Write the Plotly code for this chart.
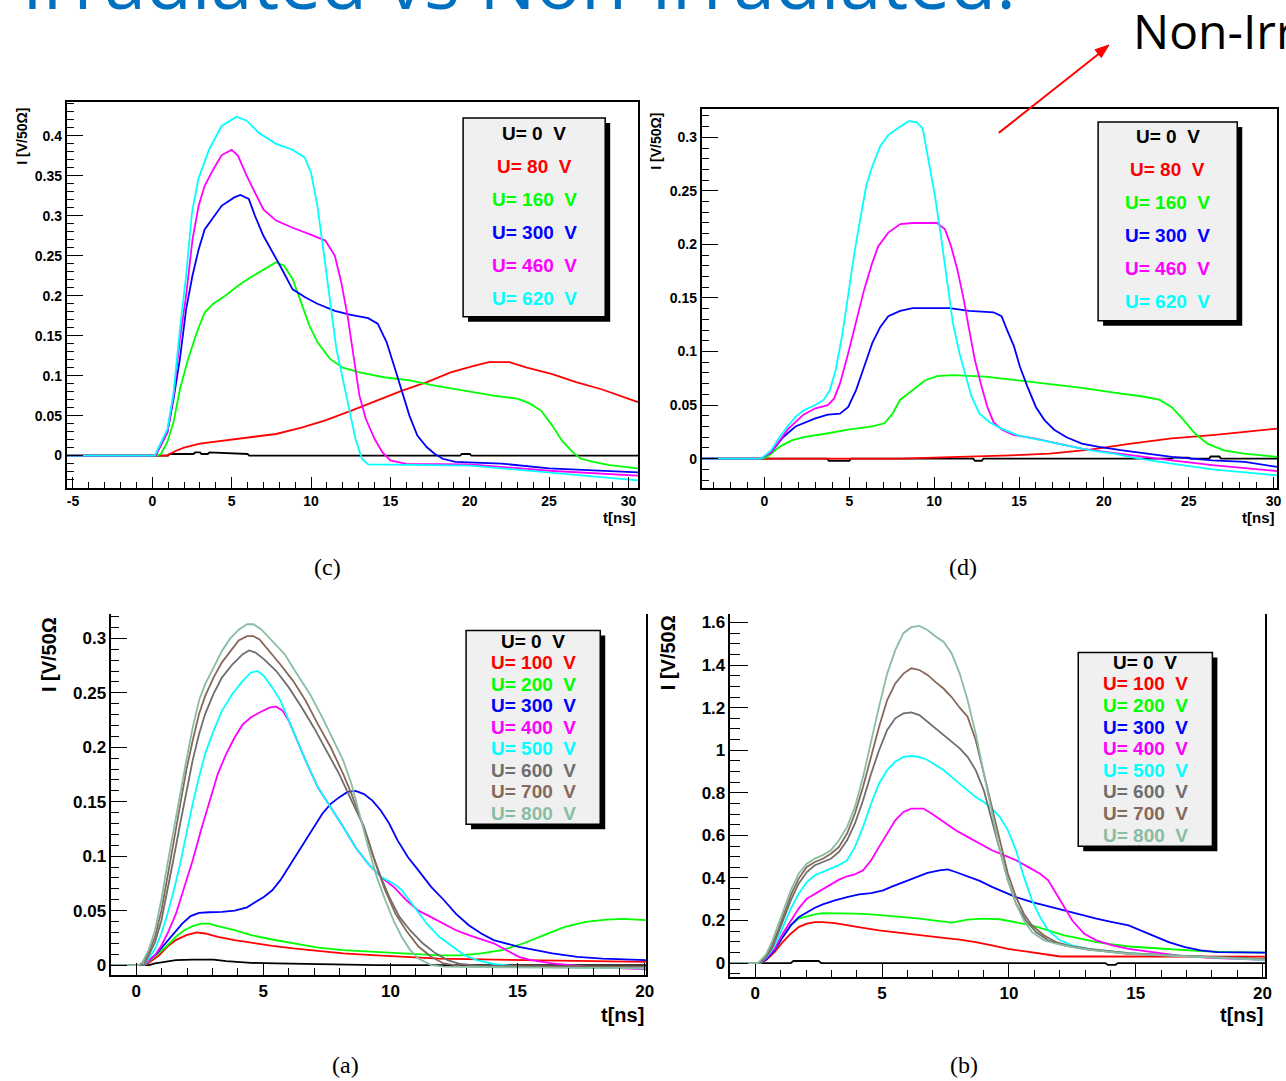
import plotly.graph_objects as go

# ---------------- data: panel (c), irradiated ----------------
C_VOLTS = [0, 80, 160, 300, 460, 620]

C_T_0 = [-5.4, 1.0, 1.1, 2.6, 2.7, 3.0, 3.1, 3.5, 3.6, 6.0, 6.1, 19.4, 19.5, 20.0, 20.1, 30.6]
C_V_0 = [0, 0, 0.002, 0.002, 0.004, 0.004, 0.002, 0.002, 0.004, 0.002, 0.0, 0.0, 0.002, 0.002, 0.0, 0.0]

C_T_80 = [-5.4, 0.9, 1.5, 2.0, 3.0, 4.6, 6.2, 7.8, 9.4, 10.9, 12.5, 14.1, 15.7, 17.3, 18.8,
          20.2, 21.2, 22.5, 23.6, 25.2, 26.7, 28.3, 30.6]
C_V_80 = [0, 0, 0.006, 0.010, 0.015, 0.019, 0.023, 0.027, 0.035, 0.044, 0.056, 0.069, 0.081,
          0.092, 0.104, 0.112, 0.117, 0.117, 0.110, 0.102, 0.092, 0.083, 0.067]

C_T_160 = [-5.4, 0.3, 0.55, 0.95, 1.34, 1.74, 2.26, 2.8, 3.3, 3.84, 4.6, 5.4, 6.2, 7.0, 7.8,
           8.3, 8.84, 9.37, 9.9, 10.4, 11.2, 12.0, 13.05, 14.6, 16.2, 17.8, 19.9, 21.5, 23.05,
           23.8, 24.5, 25.2, 25.8, 26.5, 27.0, 27.8, 28.8, 30.6]
C_V_160 = [0, 0, 0.002, 0.017, 0.042, 0.083, 0.121, 0.154, 0.179, 0.19, 0.2, 0.2125, 0.223,
           0.233, 0.242, 0.2375, 0.221, 0.192, 0.1625, 0.142, 0.121, 0.11, 0.104, 0.098, 0.094,
           0.0875, 0.08, 0.075, 0.071, 0.065, 0.056, 0.0375, 0.019, 0.004, -0.004, -0.008,
           -0.012, -0.016]

C_T_300 = [-5.4, 0.2, 0.95, 1.34, 1.74, 2.13, 2.53, 2.92, 3.3, 3.84, 4.37, 5.16, 5.55, 6.08,
           6.47, 7.0, 7.5, 8.05, 8.84, 9.63, 10.4, 11.5, 12.5, 13.6, 14.2, 14.76, 15.3, 15.7,
           16.2, 16.7, 17.3, 17.8, 18.3, 19.1, 22.0, 25.0, 30.6]
C_V_300 = [0, 0, 0.029, 0.071, 0.121, 0.183, 0.225, 0.258, 0.283, 0.298, 0.3125, 0.323, 0.326,
           0.321, 0.300, 0.275, 0.258, 0.2375, 0.208, 0.198, 0.19, 0.181, 0.176, 0.172, 0.165,
           0.142, 0.108, 0.083, 0.05, 0.025, 0.0104, 0.002, -0.004, -0.008, -0.010, -0.016,
           -0.021]

C_T_460 = [-5.4, 0.2, 0.95, 1.34, 1.74, 2.13, 2.53, 2.92, 3.3, 3.84, 4.37, 5.0, 5.4, 5.95,
           6.47, 7.0, 7.8, 8.84, 9.9, 10.9, 11.5, 11.9, 12.3, 12.7, 13.05, 13.45, 14.0, 14.5,
           15.0, 16.0, 20.0, 25.0, 30.6]
C_V_460 = [0, 0, 0.029, 0.075, 0.146, 0.2, 0.27, 0.3125, 0.3375, 0.358, 0.376, 0.3825, 0.375,
           0.35, 0.329, 0.308, 0.294, 0.285, 0.277, 0.269, 0.25, 0.217, 0.175, 0.121, 0.075,
           0.046, 0.021, 0.004, -0.006, -0.0104, -0.011, -0.019, -0.025]

C_T_620 = [-5.4, 0.15, 0.95, 1.34, 1.74, 2.13, 2.5, 2.9, 3.58, 4.37, 5.3, 5.95, 6.7, 7.8, 8.8,
           9.6, 10.0, 10.4, 10.8, 11.2, 11.6, 12.0, 12.4, 12.8, 13.2, 13.6, 20.0, 25.0, 30.6]
C_V_620 = [0, 0, 0.033, 0.079, 0.158, 0.225, 0.304, 0.346, 0.383, 0.4125, 0.424, 0.419, 0.404,
           0.39, 0.383, 0.373, 0.354, 0.3125, 0.254, 0.19, 0.133, 0.096, 0.058, 0.021, -0.004,
           -0.011, -0.0125, -0.021, -0.031]

# ---------------- data: panel (d), non-irradiated ----------------
D_VOLTS = [0, 80, 160, 300, 460, 620]

D_T_0 = [-3.7, 3.7, 3.8, 5.0, 5.1, 12.3, 12.4, 12.8, 12.9, 24.0, 24.1, 25.0, 25.1, 26.2, 26.3,
         26.8, 26.9, 30.2]
D_V_0 = [0, 0, -0.002, -0.002, 0, 0, -0.002, -0.002, 0, 0, 0.001, 0.001, 0, 0, 0.002, 0.002,
         0, 0]

D_T_80 = [-3.7, 8.0, 10.0, 12.07, 14.5, 16.8, 19.2, 21.6, 24.0, 26.4, 30.2]
D_V_80 = [0, 0, 0.001, 0.0016, 0.003, 0.0047, 0.0084, 0.014, 0.019, 0.022, 0.028]

D_T_160 = [-3.7, -0.1, 0.17, 0.88, 1.6, 2.3, 3.5, 4.93, 6.36, 7.07, 7.55, 8.0, 8.74, 9.45,
           10.17, 11.1, 13.0, 14.9, 16.8, 18.7, 20.6, 22.3, 23.26, 24.0, 24.7, 25.4, 26.1,
           27.07, 28.26, 30.2]
D_V_160 = [0, 0, 0.0016, 0.011, 0.017, 0.020, 0.023, 0.027, 0.030, 0.033, 0.042, 0.055, 0.064,
           0.073, 0.077, 0.078, 0.0766, 0.073, 0.069, 0.066, 0.0616, 0.058, 0.055, 0.048, 0.036,
           0.023, 0.014, 0.0078, 0.0047, 0.0016]

D_T_300 = [-3.7, -0.2, 0.4, 1.1, 1.83, 2.3, 3.0, 3.74, 4.45, 4.93, 5.4, 5.88, 6.36, 6.83, 7.3,
           8.0, 8.74, 10.9, 12.07, 13.5, 13.97, 14.3, 14.7, 15.05, 15.5, 16.0, 16.5, 17.07,
           17.8, 18.7, 19.7, 21.1, 22.5, 24.0, 26.4, 28.3, 30.2]
D_V_300 = [0, 0, 0.006, 0.020, 0.030, 0.033, 0.0375, 0.041, 0.042, 0.048, 0.064, 0.086, 0.108,
           0.123, 0.133, 0.138, 0.1406, 0.1406, 0.138, 0.1366, 0.133, 0.120, 0.105, 0.086,
           0.067, 0.048, 0.036, 0.027, 0.020, 0.014, 0.011, 0.0078, 0.0047, 0.0016, -0.0016,
           -0.003, -0.0078]

D_T_460 = [-3.7, -0.2, 0.4, 0.88, 1.36, 1.83, 2.3, 3.0, 3.74, 4.1, 4.45, 4.93, 5.4, 5.88, 6.36,
           6.7, 7.3, 8.0, 8.74, 10.17, 10.64, 11.0, 11.36, 11.7, 12.07, 12.4, 12.8, 13.14, 13.5,
           14.0, 14.7, 15.9, 17.3, 18.7, 20.2, 21.6, 24.0, 26.4, 30.2]
D_V_460 = [0, 0, 0.006, 0.017, 0.027, 0.034, 0.041, 0.047, 0.050, 0.056, 0.070, 0.098, 0.127,
           0.158, 0.183, 0.198, 0.211, 0.219, 0.220, 0.220, 0.214, 0.198, 0.177, 0.152, 0.120,
           0.092, 0.067, 0.048, 0.034, 0.027, 0.022, 0.019, 0.014, 0.0094, 0.006, 0.003,
           -0.0016, -0.006, -0.0116]

D_T_620 = [-3.7, -0.2, 0.4, 0.88, 1.36, 1.83, 2.3, 3.0, 3.5, 3.86, 4.2, 4.57, 4.93, 5.3, 5.64,
           6.0, 6.36, 6.83, 7.3, 7.9, 8.5, 8.98, 9.33, 9.7, 10.05, 10.4, 10.76, 11.1, 11.5,
           11.83, 12.2, 12.67, 13.26, 13.97, 14.9, 16.36, 17.8, 19.2, 20.6, 22.07, 24.0, 26.4,
           30.2]
D_V_620 = [0, 0, 0.0078, 0.020, 0.030, 0.039, 0.045, 0.050, 0.055, 0.064, 0.083, 0.114, 0.152,
           0.192, 0.223, 0.255, 0.273, 0.292, 0.302, 0.309, 0.315, 0.314, 0.308, 0.277, 0.245,
           0.208, 0.167, 0.127, 0.098, 0.080, 0.058, 0.042, 0.034, 0.028, 0.022, 0.017, 0.0125,
           0.0078, 0.0047, 0.0, -0.0047, -0.010, -0.0156]

# ---------------- data: panel (a) ----------------
A_VOLTS = [0, 100, 200, 300, 400, 500, 600, 700, 800]

A_T_0 = [-1, 0.5, 0.74, 1.23, 1.56, 2.22, 3.04, 3.54, 4.52, 5.51, 7.15, 9.46, 20.05]
A_V_0 = [0, 0, 0.0015, 0.003, 0.0046, 0.005, 0.005, 0.0037, 0.002, 0.0015, 0.0006, 0, 0]

A_T_100 = [-1, 0.3, 0.49, 0.9, 1.23, 1.56, 1.97, 2.38, 2.71, 3.21, 3.87, 4.52, 5.35, 6.17,
           7.15, 8.14, 9.46, 10.77, 11.92, 13.57, 16.04, 17.68, 20.05]
A_V_100 = [0, 0, 0.002, 0.009, 0.017, 0.0229, 0.0275, 0.030, 0.029, 0.026, 0.0229, 0.0205,
           0.0177, 0.0153, 0.0131, 0.0107, 0.0089, 0.007, 0.006, 0.0052, 0.0046, 0.004, 0.003]

A_T_200 = [-1, 0.3, 0.49, 0.9, 1.23, 1.56, 1.89, 2.22, 2.55, 2.88, 3.21, 3.87, 4.52, 5.35,
           6.17, 7.15, 8.14, 9.46, 10.77, 11.92, 12.75, 13.57, 14.39, 15.21, 16.04, 16.86,
           17.68, 18.5, 19.16, 20.05]
A_V_200 = [0, 0, 0.003, 0.011, 0.018, 0.026, 0.032, 0.0357, 0.038, 0.038, 0.0357, 0.032,
           0.0275, 0.0235, 0.0198, 0.016, 0.0137, 0.0122, 0.0107, 0.009, 0.009, 0.0107, 0.0137,
           0.0198, 0.0275, 0.035, 0.0397, 0.0418, 0.0424, 0.0412]

A_T_300 = [-1, 0.3, 0.49, 0.82, 1.15, 1.48, 1.81, 2.14, 2.47, 2.88, 3.37, 3.87, 4.36, 4.69,
           5.02, 5.35, 5.67, 6.0, 6.33, 6.66, 6.99, 7.32, 7.65, 7.98, 8.31, 8.63, 8.96, 9.29,
           9.62, 9.95, 10.28, 10.69, 11.1, 11.6, 12.09, 12.58, 13.08, 13.57, 14.06, 14.56,
           15.05, 15.71, 16.37, 17.35, 18.34, 20.05]
A_V_300 = [0, 0, 0.004, 0.011, 0.020, 0.029, 0.038, 0.045, 0.048, 0.0485, 0.0489, 0.050,
           0.053, 0.058, 0.0626, 0.0687, 0.078, 0.090, 0.102, 0.1145, 0.127, 0.139, 0.148,
           0.154, 0.159, 0.160, 0.157, 0.151, 0.142, 0.130, 0.1145, 0.099, 0.087, 0.0718,
           0.060, 0.047, 0.0366, 0.029, 0.0229, 0.0198, 0.0168, 0.0137, 0.0107, 0.0076, 0.006,
           0.0046]

A_T_400 = [-1, 0.3, 0.49, 0.74, 0.99, 1.23, 1.56, 1.89, 2.22, 2.55, 2.88, 3.21, 3.54, 3.87,
           4.19, 4.52, 4.85, 5.26, 5.51, 5.76, 6.0, 6.33, 6.66, 7.15, 7.65, 8.14, 8.63, 9.13,
           9.62, 10.12, 10.61, 11.1, 11.6, 12.09, 12.58, 13.08, 13.57, 14.06, 14.56, 15.05,
           15.54, 16.37, 17.68, 20.05]
A_V_400 = [0, 0, 0.004, 0.009, 0.018, 0.029, 0.047, 0.072, 0.096, 0.124, 0.151, 0.1756, 0.194,
           0.209, 0.221, 0.2275, 0.232, 0.2366, 0.2373, 0.2336, 0.2244, 0.206, 0.188, 0.163,
           0.145, 0.127, 0.108, 0.093, 0.081, 0.072, 0.060, 0.050, 0.044, 0.038, 0.032, 0.0275,
           0.024, 0.020, 0.0137, 0.0076, 0.0046, 0.0015, -0.0015, -0.004]

A_T_500 = [-1, 0.3, 0.49, 0.74, 0.99, 1.23, 1.48, 1.73, 1.97, 2.22, 2.47, 2.71, 3.04, 3.37,
           3.78, 4.19, 4.52, 4.77, 5.02, 5.35, 5.67, 6.0, 6.33, 6.66, 7.15, 7.65, 8.14, 8.63,
           9.13, 9.62, 10.12, 10.44, 10.94, 11.43, 11.92, 12.42, 12.91, 13.4, 14.06, 15.05,
           20.05]
A_V_500 = [0, 0, 0.006, 0.015, 0.029, 0.047, 0.0687, 0.093, 0.120, 0.148, 0.1725, 0.194,
           0.215, 0.2335, 0.249, 0.261, 0.2687, 0.270, 0.2656, 0.255, 0.243, 0.2244, 0.206,
           0.188, 0.163, 0.145, 0.127, 0.108, 0.093, 0.081, 0.075, 0.069, 0.053, 0.038, 0.026,
           0.017, 0.009, 0.0046, 0.001, -0.0015, -0.003]

A_T_600 = [-1, 0.3, 0.49, 0.74, 0.99, 1.23, 1.48, 1.73, 1.97, 2.22, 2.47, 2.71, 3.04, 3.37,
           3.78, 4.19, 4.44, 4.69, 5.02, 5.51, 6.0, 6.5, 6.99, 7.48, 7.98, 8.47, 8.96, 9.29,
           9.62, 9.95, 10.36, 10.77, 11.27, 11.76, 12.25, 12.75, 13.57, 20.05]
A_V_600 = [0, 0, 0.009, 0.021, 0.041, 0.0687, 0.099, 0.130, 0.160, 0.188, 0.212, 0.2305,
           0.249, 0.264, 0.276, 0.2855, 0.289, 0.287, 0.281, 0.270, 0.255, 0.237, 0.218, 0.197,
           0.1756, 0.151, 0.127, 0.102, 0.081, 0.0626, 0.044, 0.032, 0.020, 0.011, 0.0046,
           0.001, -0.001, -0.0015]

A_T_700 = [-1, 0.1, 0.25, 0.49, 0.74, 0.99, 1.23, 1.48, 1.73, 1.97, 2.22, 2.47, 2.71, 3.04,
           3.37, 3.70, 4.03, 4.36, 4.61, 4.85, 5.18, 5.67, 6.17, 6.66, 7.15, 7.65, 8.14, 8.47,
           8.8, 9.13, 9.46, 9.79, 10.2, 10.61, 11.1, 11.6, 12.09, 12.75, 20.05]
A_V_700 = [0, 0, 0.002, 0.011, 0.026, 0.050, 0.081, 0.1145, 0.148, 0.179, 0.206, 0.2305,
           0.247, 0.264, 0.278, 0.2885, 0.298, 0.302, 0.302, 0.299, 0.290, 0.276, 0.261, 0.243,
           0.221, 0.200, 0.1756, 0.157, 0.136, 0.1145, 0.090, 0.0687, 0.047, 0.032, 0.017,
           0.0076, 0.0015, -0.001, -0.0015]

A_T_800 = [-1, 0.1, 0.25, 0.49, 0.74, 0.99, 1.23, 1.48, 1.73, 1.97, 2.22, 2.47, 2.71, 3.04,
           3.37, 3.70, 4.03, 4.36, 4.61, 4.93, 5.35, 5.84, 6.33, 6.83, 7.32, 7.81, 8.14, 8.47,
           8.8, 9.13, 9.46, 9.79, 10.12, 10.44, 10.77, 11.1, 11.6, 12.09, 14.39, 20.05]
A_V_800 = [0, 0, 0.003, 0.014, 0.032, 0.060, 0.093, 0.127, 0.157, 0.188, 0.218, 0.243, 0.258,
           0.273, 0.2885, 0.300, 0.308, 0.313, 0.313, 0.308, 0.298, 0.2855, 0.267, 0.249,
           0.2275, 0.203, 0.188, 0.166, 0.136, 0.108, 0.081, 0.060, 0.041, 0.026, 0.014, 0.006,
           0.0, -0.0015, -0.002, -0.003]

# ---------------- data: panel (b) ----------------
B_VOLTS = [0, 100, 200, 300, 400, 500, 600, 700, 800]

B_T_0 = [-1, 1.4, 1.5, 2.5, 2.6, 13.8, 13.9, 14.2, 14.3, 20.1]
B_V_0 = [0, 0, 0.01, 0.01, 0, 0, -0.008, -0.008, 0, 0]

B_T_100 = [-1, 0.2, 0.44, 0.76, 1.08, 1.40, 1.71, 2.03, 2.35, 2.66, 3.14, 3.62, 4.25, 4.88,
           5.52, 6.15, 6.79, 7.42, 8.06, 8.69, 9.33, 9.96, 10.59, 11.23, 12.02, 13.13, 16.0,
           20.1]
B_V_100 = [0, 0, 0.016, 0.052, 0.099, 0.138, 0.169, 0.185, 0.193, 0.193, 0.188, 0.177, 0.166,
           0.154, 0.146, 0.138, 0.130, 0.119, 0.110, 0.099, 0.083, 0.067, 0.056, 0.044, 0.031,
           0.031, 0.031, 0.030]

B_T_200 = [-1, 0.2, 0.44, 0.76, 1.08, 1.40, 1.71, 2.03, 2.35, 2.66, 3.30, 3.93, 4.57, 5.20,
           5.84, 6.47, 7.11, 7.74, 8.37, 9.01, 9.64, 10.28, 10.91, 11.55, 12.18, 12.82, 13.45,
           14.08, 14.72, 15.67, 16.62, 17.57, 18.68, 20.1]
B_V_200 = [0, 0, 0.020, 0.060, 0.122, 0.177, 0.209, 0.220, 0.229, 0.235, 0.235, 0.232, 0.229,
           0.224, 0.216, 0.209, 0.198, 0.190, 0.204, 0.209, 0.206, 0.193, 0.177, 0.154, 0.130,
           0.1145, 0.099, 0.088, 0.078, 0.071, 0.063, 0.056, 0.052, 0.049]

B_T_300 = [-1, 0.2, 0.44, 0.76, 1.08, 1.40, 1.71, 2.03, 2.35, 2.66, 3.14, 3.62, 4.09, 4.57,
           5.04, 5.36, 5.84, 6.31, 6.79, 7.26, 7.58, 7.90, 8.37, 8.85, 9.33, 9.80, 10.28, 10.91,
           11.55, 12.18, 12.82, 13.45, 14.08, 14.72, 15.19, 15.67, 16.30, 16.94, 17.57, 18.21,
           20.1]
B_V_300 = [0, 0, 0.018, 0.060, 0.122, 0.177, 0.216, 0.240, 0.260, 0.276, 0.295, 0.310, 0.323,
           0.329, 0.342, 0.358, 0.381, 0.400, 0.424, 0.436, 0.440, 0.428, 0.408, 0.386, 0.358,
           0.334, 0.310, 0.287, 0.267, 0.248, 0.229, 0.209, 0.193, 0.177, 0.154, 0.130, 0.099,
           0.075, 0.060, 0.052, 0.049]

B_T_400 = [-1, 0.2, 0.44, 0.76, 1.08, 1.40, 1.71, 2.03, 2.35, 2.66, 2.98, 3.30, 3.62, 3.93,
           4.25, 4.57, 4.88, 5.20, 5.52, 5.84, 6.15, 6.63, 6.95, 7.42, 7.90, 8.37, 8.85, 9.33,
           9.80, 10.28, 10.75, 11.23, 11.55, 11.86, 12.18, 12.50, 12.97, 13.45, 14.08, 14.72,
           15.67, 16.62, 17.89, 20.1]
B_V_400 = [0, 0, 0.025, 0.067, 0.138, 0.200, 0.256, 0.303, 0.326, 0.350, 0.373, 0.392, 0.408,
           0.417, 0.436, 0.483, 0.546, 0.609, 0.671, 0.710, 0.726, 0.726, 0.703, 0.664, 0.624,
           0.593, 0.562, 0.530, 0.507, 0.483, 0.452, 0.420, 0.389, 0.326, 0.264, 0.200, 0.138,
           0.107, 0.083, 0.067, 0.052, 0.036, 0.025, 0.0157]

B_T_500 = [-1, 0.2, 0.44, 0.68, 0.92, 1.16, 1.40, 1.71, 2.03, 2.35, 2.66, 2.98, 3.30, 3.62,
           3.93, 4.25, 4.57, 4.88, 5.20, 5.52, 5.84, 6.15, 6.47, 6.79, 7.11, 7.42, 7.74, 8.06,
           8.37, 8.69, 9.01, 9.33, 9.64, 9.96, 10.28, 10.59, 10.91, 11.23, 11.55, 12.02, 12.50,
           13.13, 14.72, 16.30, 20.1]
B_V_500 = [0, 0, 0.028, 0.067, 0.122, 0.185, 0.256, 0.326, 0.381, 0.413, 0.428, 0.444, 0.460,
           0.483, 0.546, 0.640, 0.750, 0.844, 0.907, 0.946, 0.969, 0.973, 0.969, 0.954, 0.930,
           0.907, 0.875, 0.844, 0.8125, 0.780, 0.757, 0.726, 0.687, 0.624, 0.530, 0.405, 0.295,
           0.216, 0.154, 0.107, 0.083, 0.067, 0.047, 0.036, 0.0157]

B_T_600 = [-1, 0.2, 0.44, 0.68, 0.92, 1.16, 1.40, 1.71, 2.03, 2.35, 2.66, 2.98, 3.30, 3.62,
           3.93, 4.25, 4.57, 4.88, 5.20, 5.52, 5.84, 6.15, 6.47, 6.79, 7.11, 7.42, 7.74, 8.06,
           8.37, 8.69, 9.01, 9.33, 9.64, 9.96, 10.28, 10.67, 11.07, 11.55, 12.18, 13.13, 14.72,
           20.1]
B_V_600 = [0, 0, 0.031, 0.075, 0.146, 0.216, 0.295, 0.373, 0.428, 0.460, 0.475, 0.490, 0.522,
           0.577, 0.656, 0.765, 0.891, 1.000, 1.095, 1.150, 1.173, 1.178, 1.165, 1.134, 1.103,
           1.070, 1.040, 1.009, 0.969, 0.907, 0.812, 0.671, 0.530, 0.389, 0.279, 0.200, 0.146,
           0.107, 0.083, 0.063, 0.044, 0.019]

B_T_700 = [-1, 0.1, 0.21, 0.44, 0.68, 0.92, 1.16, 1.40, 1.71, 2.03, 2.35, 2.66, 2.98, 3.30,
           3.62, 3.93, 4.25, 4.57, 4.88, 5.20, 5.52, 5.84, 6.15, 6.47, 6.79, 7.11, 7.42, 7.74,
           8.06, 8.37, 8.69, 9.01, 9.33, 9.64, 9.96, 10.28, 10.59, 10.91, 11.39, 11.86, 12.50,
           13.13, 14.72, 16.30, 20.1]
B_V_700 = [0, 0, 0.009, 0.036, 0.091, 0.160, 0.240, 0.318, 0.397, 0.452, 0.475, 0.490, 0.514,
           0.546, 0.609, 0.703, 0.828, 0.969, 1.110, 1.236, 1.314, 1.360, 1.385, 1.377, 1.354,
           1.320, 1.290, 1.250, 1.200, 1.158, 1.048, 0.891, 0.734, 0.577, 0.420, 0.310, 0.232,
           0.177, 0.130, 0.099, 0.078, 0.067, 0.047, 0.036, 0.020]

B_T_800 = [-1, 0.1, 0.21, 0.44, 0.68, 0.92, 1.16, 1.40, 1.71, 2.03, 2.35, 2.66, 2.98, 3.30,
           3.62, 3.93, 4.25, 4.57, 4.88, 5.20, 5.52, 5.84, 6.15, 6.47, 6.79, 7.11, 7.42, 7.74,
           8.06, 8.37, 8.69, 9.01, 9.33, 9.64, 9.96, 10.28, 10.59, 10.91, 11.39, 11.86, 12.50,
           13.13, 14.72, 16.30, 17.89, 20.1]
B_V_800 = [0, 0, 0.0125, 0.044, 0.107, 0.185, 0.264, 0.342, 0.420, 0.467, 0.491, 0.507, 0.530,
           0.577, 0.640, 0.734, 0.875, 1.048, 1.205, 1.360, 1.470, 1.550, 1.578, 1.584, 1.565,
           1.534, 1.510, 1.456, 1.360, 1.236, 1.079, 0.891, 0.703, 0.530, 0.389, 0.279, 0.200,
           0.146, 0.107, 0.091, 0.075, 0.063, 0.044, 0.036, 0.025, 0.0157]

C_X_TICKS = [-5, 0, 5, 10, 15, 20, 25, 30]

# ROOT palette used for the voltage series
COL6 = ["#000000", "#ff0000", "#00ff00", "#0000ff", "#ff00ff", "#00ffff"]
COL9 = COL6 + ["#6e6e6e", "#86695a", "#88bda3"]

W, H = 1286, 1081


def fx(px):
    return px / W


def fy(py):
    return 1 - py / H


fig = go.Figure()

FONT = "Liberation Sans"


def add_panel(idx, xpx, ypx, xr, yr, xd, xm, yd, ym, tsize, xlen, ylen, top_line,
              xticks=None):
    sfx = "" if idx == 1 else str(idx)
    xa = dict(domain=[fx(xpx[0]), fx(xpx[1])], range=xr, anchor="y" + sfx,
              showgrid=False, zeroline=False, showline=True, linecolor="black",
              linewidth=1.5, mirror=top_line, ticks="inside", ticklen=xlen[0],
              tickwidth=1.3, tickcolor="black",
              tickfont=dict(family=FONT, size=tsize, color="black", weight="bold"),
              minor=dict(ticks="inside", ticklen=xlen[1], dtick=xm, tick0=0,
                         tickcolor="black", tickwidth=1.3, showgrid=False))
    if xticks is not None:
        xa.update(tickmode="array", tickvals=xticks, ticktext=[str(v) for v in xticks])
    else:
        xa.update(tickmode="linear", tick0=0, dtick=xd)
    ya = dict(domain=[fy(ypx[1]), fy(ypx[0])], range=yr, anchor="x" + sfx,
              showgrid=False, zeroline=False, showline=True, linecolor="black",
              linewidth=1.5, mirror=True, ticks="inside", ticklen=ylen[0],
              tickwidth=1.3, tickcolor="black", tickmode="linear", tick0=0, dtick=yd,
              tickfont=dict(family=FONT, size=tsize, color="black", weight="bold"),
              minor=dict(ticks="inside", ticklen=ylen[1], dtick=ym, tick0=0,
                         tickcolor="black", tickwidth=1.3, showgrid=False))
    fig.update_layout(**{"xaxis" + sfx: xa, "yaxis" + sfx: ya})
    return "x" + sfx, "y" + sfx


def add_curves(axes, ts, vs, colors):
    for t, v, c in zip(ts, vs, colors):
        fig.add_trace(go.Scatter(x=t, y=v, mode="lines", xaxis=axes[0], yaxis=axes[1],
                                 line=dict(color=c, width=1.8), showlegend=False,
                                 hoverinfo="skip"))


def add_legend_box(box, volts, colors, y0, dy, size):
    x0, y_top, x1, y_bot = box
    fig.add_shape(type="rect", xref="paper", yref="paper",
                  x0=fx(x0 + 5), x1=fx(x1 + 5), y0=fy(y_bot + 5), y1=fy(y_top + 5),
                  fillcolor="black", line=dict(width=0))
    fig.add_shape(type="rect", xref="paper", yref="paper",
                  x0=fx(x0), x1=fx(x1), y0=fy(y_bot), y1=fy(y_top),
                  fillcolor="#f0f0f0", line=dict(color="black", width=1.5))
    cx = (x0 + x1) / 2
    for i, (u, c) in enumerate(zip(volts, colors)):
        fig.add_annotation(text=f"U= {u}\u00a0\u00a0V", x=fx(cx), y=fy(y0 + i * dy),
                           xref="paper", yref="paper", showarrow=False,
                           xanchor="center", yanchor="middle",
                           font=dict(family=FONT, size=size, color=c, weight="bold"))


def text(s, x, y, size, color="black", family=FONT, weight="bold", angle=0,
         xanchor="center", yanchor="middle"):
    fig.add_annotation(text=s, x=fx(x), y=fy(y), xref="paper", yref="paper",
                       showarrow=False, textangle=angle, xanchor=xanchor,
                       yanchor=yanchor,
                       font=dict(family=family, size=size, color=color, weight=weight))


# panel (c)
ax_c = add_panel(1, (67, 642), (101, 487), [-5.4, 30.6], [-0.04, 0.4425], 5, 1, 0.05, 0.01,
                 14, (11, 6), (17, 8), True, xticks=C_X_TICKS)
add_curves(ax_c, [C_T_0, C_T_80, C_T_160, C_T_300, C_T_460, C_T_620],
           [C_V_0, C_V_80, C_V_160, C_V_300, C_V_460, C_V_620], COL6)
add_legend_box((466, 117, 609, 316), C_VOLTS, COL6, 133, 33, 19)
text("I [V/50\u03a9]", 22, 135, 14, angle=-90)
text("t[ns]", 642, 517, 15, xanchor="right")
text("(c)", 330, 567, 24, family="Liberation Serif", weight="normal")

# panel (d)
ax_d = add_panel(2, (706, 1285), (108, 487), [-3.7, 30.2], [-0.027, 0.3265], 5, 1, 0.05,
                 0.01, 14, (11, 6), (17, 8), True)
add_curves(ax_d, [D_T_0, D_T_80, D_T_160, D_T_300, D_T_460, D_T_620],
           [D_V_0, D_V_80, D_V_160, D_V_300, D_V_460, D_V_620], COL6)
add_legend_box((1105, 121, 1245, 320), D_VOLTS, COL6, 136, 33, 19)
text("I [V/50\u03a9]", 660, 140, 14, angle=-90)
text("t[ns]", 1285, 517, 15, xanchor="right")
text("(d)", 969, 567, 24, family="Liberation Serif", weight="normal")

# panel (a)
ax_a = add_panel(3, (112, 650), (614, 975), [-0.98, 20.05], [-0.0092, 0.322], 5, 1, 0.05,
                 0.01, 17, (12, 7), (16, 8), False)
add_curves(ax_a, [A_T_0, A_T_100, A_T_200, A_T_300, A_T_400, A_T_500, A_T_600, A_T_700,
                  A_T_800],
           [A_V_0, A_V_100, A_V_200, A_V_300, A_V_400, A_V_500, A_V_600, A_V_700, A_V_800],
           COL9)
add_legend_box((469, 630, 604, 824), A_VOLTS, COL9, 641, 21.5, 19)
text("I [V/50\u03a9", 50, 654, 20, angle=-90)
text("t[ns]", 650, 1015, 20, xanchor="right")
text("(a)", 348, 1065, 24, family="Liberation Serif", weight="normal")

# panel (b)
ax_b = add_panel(4, (735, 1273), (614, 977), [-0.98, 20.1], [-0.0657, 1.638], 5, 1, 0.2,
                 0.05, 17, (13, 7), (18, 10), False)
add_curves(ax_b, [B_T_0, B_T_100, B_T_200, B_T_300, B_T_400, B_T_500, B_T_600, B_T_700,
                  B_T_800],
           [B_V_0, B_V_100, B_V_200, B_V_300, B_V_400, B_V_500, B_V_600, B_V_700, B_V_800],
           COL9)
add_legend_box((1085, 652, 1220, 846), B_VOLTS, COL9, 662, 21.6, 19)
text("I [V/50\u03a9", 673, 652, 20, angle=-90)
text("t[ns]", 1273, 1015, 20, xanchor="right")
text("(b)", 970, 1065, 24, family="Liberation Serif", weight="normal")

# slide heading (partly above the page) and the arrow label
text("Irradiated vs Non-Irradiated:", 20, -21, 75, color="#0070c0", family="Open Sans",
     weight="normal", xanchor="left")
text("Non-Irradiated", 1138, 30, 48, family="Open Sans", weight="normal", xanchor="left")

# red arrow pointing at the label
fig.add_shape(type="line", xref="paper", yref="paper", x0=fx(1005), y0=fy(132),
              x1=fx(1108), y1=fy(51), line=dict(color="#ff0000", width=2))
fig.add_shape(type="path", xref="paper", yref="paper",
              path=(f"M {fx(1116)} {fy(44)} L {fx(1108.1)} {fy(56.6)} "
                    f"L {fx(1101.9)} {fy(48.8)} Z"),
              fillcolor="#ff0000", line=dict(color="#ff0000", width=1))

fig.update_layout(width=W, height=H, margin=dict(l=0, r=0, t=0, b=0),
                  paper_bgcolor="white", plot_bgcolor="white", showlegend=False)

fig.write_html("out.html")
